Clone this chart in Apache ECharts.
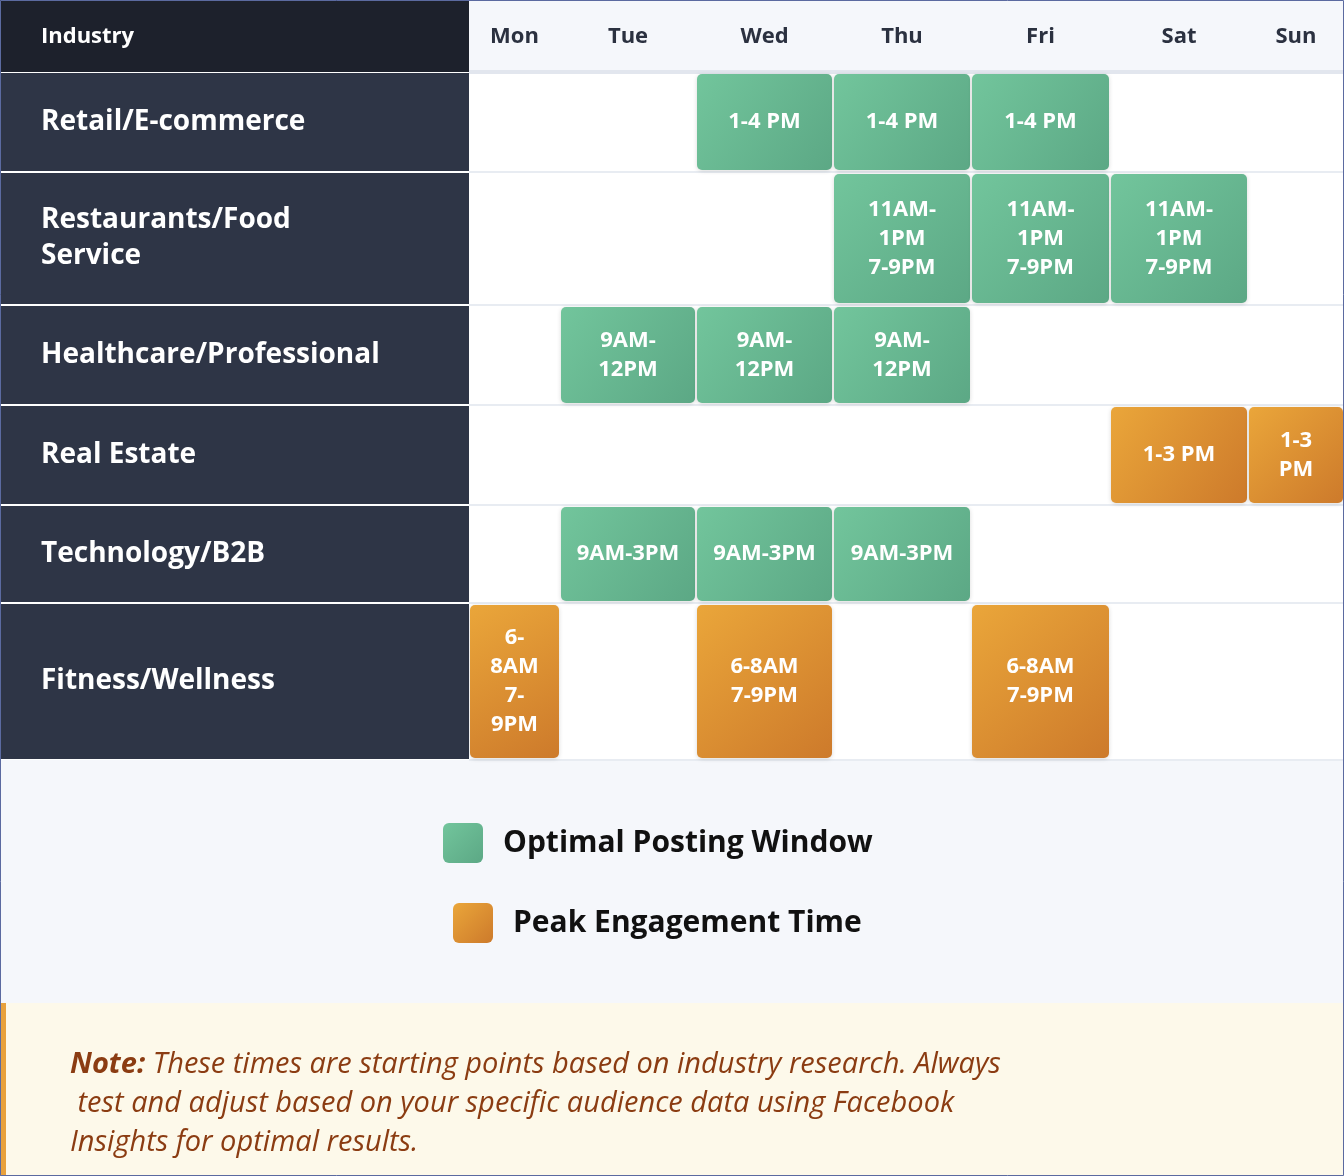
<!DOCTYPE html>
<html><head><meta charset="utf-8">
<script src="https://cdn.jsdelivr.net/npm/echarts@6/dist/echarts.min.js"></script>
<style>html,body{margin:0;padding:0;background:#fff}#c{width:1344px;height:1176px}</style>
</head><body><div id="c"></div>
<script>
const days = ['Mon','Tue','Wed','Thu','Fri','Sat','Sun'];
const industries = ['Retail/E-commerce','Restaurants/Food\nService','Healthcare/Professional','Real Estate','Technology/B2B','Fitness/Wellness'];
const cellRow  = [0,0,0, 1,1,1, 2,2,2, 3,3, 4,4,4, 5,5,5];
const cellDay  = [2,3,4, 3,4,5, 1,2,3, 5,6, 1,2,3, 0,2,4];
const cellText = ['1-4 PM','1-4 PM','1-4 PM',
  '11AM-\n1PM\n7-9PM','11AM-\n1PM\n7-9PM','11AM-\n1PM\n7-9PM',
  '9AM-\n12PM','9AM-\n12PM','9AM-\n12PM',
  '1-3 PM','1-3\nPM',
  '9AM-3PM','9AM-3PM','9AM-3PM',
  '6-\n8AM\n7-\n9PM','6-8AM\n7-9PM','6-8AM\n7-9PM'];
const cellType = ['opt','opt','opt','opt','opt','opt','opt','opt','opt','peak','peak','opt','opt','opt','peak','peak','peak'];
const legendNames = ['Optimal Posting Window','Peak Engagement Time'];

// layout (style, not data)
const colW = [91,136,137,138,139,138,96];
const rowH = [100,133,100,100,98,157];
const X0 = 469, Y0 = 72, LEFT = 469;
const colX = [X0]; colW.forEach(w => colX.push(colX[colX.length-1]+w));
const rowY = [Y0]; rowH.forEach(h => rowY.push(rowY[rowY.length-1]+h));
const FONT = '"Open Sans","Noto Sans",sans-serif';

const grad = t => t === 'opt'
  ? new echarts.graphic.LinearGradient(0,0,1,1,[{offset:0,color:'#72c59c'},{offset:1,color:'#5ca885'}])
  : new echarts.graphic.LinearGradient(0,0,1,1,[{offset:0,color:'#eaa63a'},{offset:1,color:'#cd7a2b'}]);

const graphics = [];
graphics.push({type:'rect',shape:{x:0,y:0,width:1344,height:760},style:{fill:'#ffffff'},z:-10});
graphics.push({type:'rect',shape:{x:0,y:0,width:LEFT,height:72},style:{fill:'#1d212c'},z:-9});
graphics.push({type:'rect',shape:{x:LEFT,y:0,width:1344-LEFT,height:72},style:{fill:'#f5f7fb'},z:-9});
graphics.push({type:'rect',shape:{x:LEFT,y:70,width:1344-LEFT,height:4},style:{fill:'#e2e6ee'},z:-8});
graphics.push({type:'text',style:{text:'Industry',x:41,y:37,verticalAlign:'middle',fill:'#fff',font:'bold 22px '+FONT},z:5});
days.forEach((d,i)=>graphics.push({type:'text',style:{text:d,x:(colX[i]+colX[i+1])/2,y:37,align:'center',verticalAlign:'middle',fill:'#2b3140',font:'bold 22px '+FONT},z:5}));
industries.forEach((n,i)=>{
  graphics.push({type:'rect',shape:{x:0,y:rowY[i]+1,width:LEFT,height:rowH[i]-2},style:{fill:'#2e3546'},z:-8});
  graphics.push({type:'rect',shape:{x:LEFT,y:rowY[i+1]-1,width:1344-LEFT,height:2},style:{fill:'#e8ecf2'},z:-8});
  graphics.push({type:'text',style:{text:n,x:41,y:(rowY[i]+rowY[i+1])/2,verticalAlign:'middle',fill:'#fff',font:'bold 28px '+FONT,lineHeight:36},z:5});
});
graphics.push({type:'rect',shape:{x:0,y:760,width:1344,height:243},style:{fill:'#f5f7fb'},z:-10});
graphics.push({type:'rect',shape:{x:0,y:1003,width:1344,height:173},style:{fill:'#fdf9ea'},z:-10});
graphics.push({type:'rect',shape:{x:0,y:1003,width:6,height:173},style:{fill:'#e8a13c'},z:-9});
[[443,843,'opt'],[453,923,'peak']].forEach((l,i)=>{
  graphics.push({type:'rect',shape:{x:l[0],y:l[1]-20,width:40,height:40,r:6},style:{fill:grad(l[2])}});
  graphics.push({type:'text',style:{text:legendNames[i],x:l[0]+60,y:l[1],verticalAlign:'middle',fill:'#111',font:'bold 30px '+FONT}});
});
graphics.push({type:'text',style:{
  text:'{b|Note:} These times are starting points based on industry research. Always test and adjust based on your specific audience data using Facebook Insights for optimal results.',
  x:70,y:1045,width:1190,overflow:'break',fill:'#8b3c12',font:'italic 29px '+FONT,lineHeight:39,
  rich:{b:{font:'italic bold 29px '+FONT,fill:'#8b3c12'}}}});
graphics.push({type:'rect',shape:{x:0.5,y:0.5,width:1343,height:1175},style:{fill:'none',stroke:'#5b6aa0',lineWidth:1},z:20});

const chart = echarts.init(document.getElementById('c'));
chart.setOption({
  animation:false,
  grid:{left:X0,top:Y0,width:1344-X0,height:rowY[6]-Y0},
  xAxis:{type:'category',data:days,show:false},
  yAxis:{type:'category',data:industries,show:false,inverse:true},
  graphic:graphics,
  series:[{
    type:'custom',
    data:cellRow.map((r,i)=>[cellDay[i],r,cellText[i],cellType[i]]),
    renderItem:(params,api)=>{
      const d=api.value(0), r=api.value(1);
      const item=params.dataIndex;
      const t=cellType[item], txt=cellText[item];
      const x=colX[d]+1, y=rowY[r]+2, w=colW[d]-2, h=rowH[r]-4;
      return {type:'group',children:[
        {type:'rect',shape:{x,y,width:w,height:h,r:5},style:{fill:grad(t),shadowBlur:4,shadowColor:'rgba(0,0,0,0.15)',shadowOffsetY:1}},
        {type:'text',style:{text:txt,x:x+w/2,y:y+h/2,align:'center',verticalAlign:'middle',fill:'#fff',font:'bold 22px '+FONT,lineHeight:29}}
      ]};
    }
  }]
});
</script></body></html>
